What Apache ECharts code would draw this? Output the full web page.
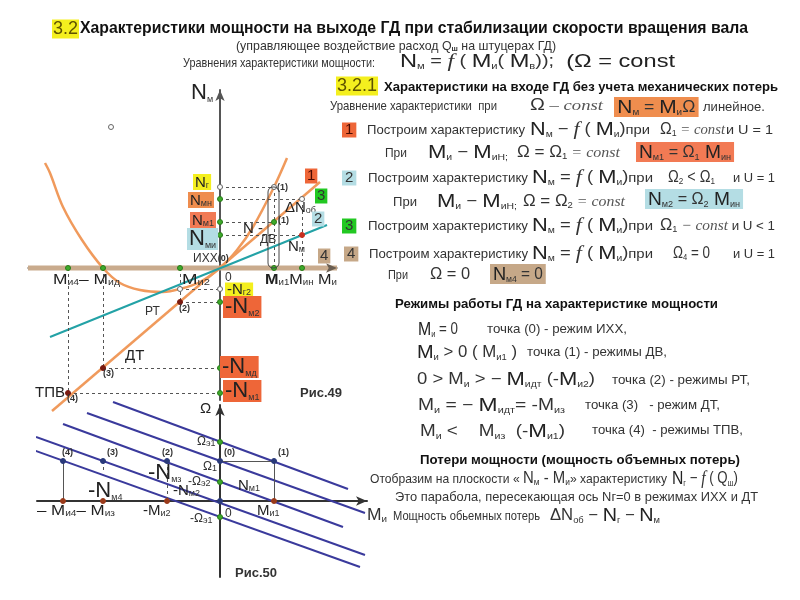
<!DOCTYPE html>
<html>
<head>
<meta charset="utf-8">
<script src="https://cdn.jsdelivr.net/npm/echarts@6/dist/echarts.min.js"></script>
<style>html,body{margin:0;background:#fff}#chart{width:800px;height:600px}</style>
</head>
<body>
<div id="chart"></div>
<script>
// Рис.49 — плоскость N_м – M_и
var mAxis49 = [-15.2, -11.7, -4.0, 5.4, 8.2];      // M_и4, M_ид, M_и2, M_и1, M_ин
var nPos49 = [8.1, 6.9, 4.6, 3.3];                 // N_г, N_мн, N_м1, N_ми
var nNeg49 = [-2.1, -3.4, -10.0, -12.5];           // -N_г2, -N_м2, -N_мд, -N_м1
var char1 = [[-16.8, -14.3], [10.0, 8.6]];         // 1: Ω1, U = 1
var char2 = [[-17.0, -6.9], [10.7, 4.3]];          // 2: Ω2 < Ω1
var char4 = [[-19.2, 0], [11.7, 0]];               // 4: Ω4 = 0
var parabolaNg = [[-17.5, 10.5], [-17.0, 9.5], [-15.7, 6.1], [-13.8, 2.8], [-11.7, 0], [-10.0, -1.5],
  [-8.0, -2.2], [-5.7, -2.4], [-4.0, -2.1], [-2.0, -1.4], [0, 0], [1.7, 1.8], [3.3, 4.1], [5.4, 8.1], [6.7, 11.0]];
var strayPoint = [[-10.9, 14.1]];

// Рис.50 — плоскость Ω – M_и
var mAxis50 = [-15.7, -11.7, -5.3, 0, 5.4];        // (4), (3), (2), (0), (1)
var omega1 = 4.0;
var omegaTicks = [5.9, 1.9, -1.6];                 // Ω_э1, Ω_э2, -Ω_э1
var omegaLines = [
  [[-10.7, 9.9], [12.8, 1.2]],
  [[-13.3, 8.8], [14.5, -1.2]],
  [[-15.7, 7.7], [12.3, -2.6]],
  [[-18.4, 6.4], [14.5, -5.4]],
  [[-19.5, 5.4], [14.0, -6.6]]
];

var SANS = 'Liberation Sans', SERIF = 'Liberation Serif';
var ORANGE = '#f09a5c', TEAL = '#23a2a6', NAVY = '#3a3a9c', GUIDE = '#555';

var R = {
  h:  {fontSize: 16, fontWeight: 'bold', fill: '#111'},
  h2: {fontSize: 13, fontWeight: 'bold', fill: '#111'},
  t:  {fontSize: 13, fill: '#333'},
  tb: {fontSize: 8, fontWeight: 'bold', fill: '#333', verticalAlign: 'bottom', lineHeight: 10},
  N:  {fontSize: 19, fill: '#222'},
  o:  {fontSize: 16, fill: '#333'},
  s:  {fontSize: 9, fill: '#333', verticalAlign: 'bottom', lineHeight: 10},
  i:  {fontSize: 15, fontFamily: SERIF, fontStyle: 'italic', fill: '#555'},
  f:  {fontSize: 19, fontFamily: SERIF, fontStyle: 'italic', fill: '#333'},
  y:  {fontSize: 18, fill: '#5e5200'},
  m:  {fontSize: 15, fill: '#222'},
  mb: {fontSize: 15, fontWeight: 'bold', fill: '#222'},
  d:  {fontSize: 12, fill: '#333'},
  p:  {fontSize: 9, fontWeight: 'bold', fill: '#333'},
  nb: {fontSize: 15, fill: '#333'},
  nr: {fontSize: 15, fill: '#4a0a00'},
  big: {fontSize: 22, fill: '#222'},
  fig: {fontSize: 13, fontWeight: 'bold', fill: '#333'}
};
for (var k in R) if (!R[k].fontFamily) R[k].fontFamily = SANS;

var ctx = document.createElement('canvas').getContext('2d');
function fontOf(st) {
  return (st.fontStyle || 'normal') + ' ' + (st.fontWeight || 'normal') + ' ' + st.fontSize + 'px ' + st.fontFamily;
}
// rich text element, optionally squeezed to a given width
function rt(x, y, w, str, extra) {
  var width = 0, re = /\{(\w+)\|([^}]*)\}/g, m;
  while ((m = re.exec(str))) { ctx.font = fontOf(R[m[1]]); width += ctx.measureText(m[2]).width; }
  var style = {text: str, rich: R, verticalAlign: 'middle', align: 'left'};
  for (var key in extra) style[key] = extra[key];
  return {type: 'text', x: x, y: y, z: 100, silent: true, scaleX: w ? w / width : 1, style: style};
}
function box(color, pad) { return {backgroundColor: color, padding: pad || [1, 3, 0, 3]}; }

var YEL = '#f4ef1e', ORG = '#ef8d4e', SAL = '#f27a54', BLU = '#b4dde4', GRN = '#22c822', TAN = '#c6a888', RED = '#ee6638';

var texts = [
  rt(52, 29, null, '{y|3.2}', box(YEL, [1, 1, 0, 1])),
  rt(80, 29, 668, '{h|Характеристики мощности на выходе ГД при стабилизации скорости вращения вала}'),
  rt(236, 46, 320, '{t|(управляющее воздействие расход Q}{tb|ш}{t| на штуцерах ГД)}'),
  rt(183, 63, 192, '{t|Уравнения характеристики мощности:}'),
  rt(400, 62, 275, '{N|N}{s|м}{o| = }{f|f}{o| ( }{N|M}{s|и}{o|( }{N|M}{s|в}{o|)); }{N| (Ω = const}'),

  rt(336, 86, null, '{y|3.2.1}', box(YEL, [1, 1, 0, 1])),
  rt(384, 87, 394, '{h2|Характеристики на входе ГД без учета механических потерь}'),
  rt(330, 106, 167, '{t|Уравнение характеристики  при}'),
  rt(530, 106, 73, '{o|Ω}{i| – const}'),
  rt(614, 107, 78, '{N|N}{s|м}{o| = }{N|M}{s|и}{o|Ω}', box(ORG)),
  rt(703, 107, 62, '{t|линейное.}'),

  rt(342, 130, null, '{nr|1}', box(RED, [0, 3, 0, 3])),
  rt(367, 130, 158, '{t|Построим характеристику}'),
  rt(530, 130, 120, '{N|N}{s|м}{o| − }{f|f}{o| ( }{N|M}{s|и}{o|)}{t|при}'),
  rt(660, 130, 65, '{o|Ω}{s|1}{i| = const}'),
  rt(726, 130, 47, '{t|и U = 1}'),
  rt(385, 153, 22, '{t|При}'),
  rt(428, 153, 80, '{N|M}{s|и}{o| − }{N|M}{s|иН;}'),
  rt(517, 153, 103, '{o|Ω = Ω}{s|1}{i| = const}'),
  rt(636, 152, 92, '{N|N}{s|м1}{o| = Ω}{s|1}{N| M}{s|ин}', box(SAL)),

  rt(342, 178, null, '{nb|2}', box(BLU, [0, 3, 0, 3])),
  rt(368, 178, 160, '{t|Построим характеристику}'),
  rt(532, 178, 121, '{N|N}{s|м}{o| = }{f|f}{o| ( }{N|M}{s|и}{o|)}{t|при}'),
  rt(668, 178, 47, '{o|Ω}{s|2}{o| < Ω}{s|1}'),
  rt(733, 178, 42, '{t|и U = 1}'),
  rt(393, 202, 24, '{t|При}'),
  rt(437, 202, 80, '{N|M}{s|и}{o| − }{N|M}{s|иН;}'),
  rt(523, 202, 102, '{o|Ω = Ω}{s|2}{i| = const}'),
  rt(645, 199, 92, '{N|N}{s|м2}{o| = Ω}{s|2}{N| M}{s|ин}', box(BLU)),

  rt(342, 226, null, '{nb|3}', box(GRN, [0, 3, 0, 3])),
  rt(368, 226, 160, '{t|Построим характеристику}'),
  rt(532, 226, 121, '{N|N}{s|м}{o| = }{f|f}{o| ( }{N|M}{s|и}{o|)}{t|при}'),
  rt(660, 226, 115, '{o|Ω}{s|1}{i| − const}{t| и U < 1}'),

  rt(344, 254, null, '{nb|4}', box(TAN, [0, 3, 0, 3])),
  rt(369, 254, 159, '{t|Построим характеристику}'),
  rt(532, 254, 121, '{N|N}{s|м}{o| = }{f|f}{o| ( }{N|M}{s|и}{o|)}{t|при}'),
  rt(673, 254, 37, '{o|Ω}{s|4}{o| = 0}'),
  rt(733, 254, 42, '{t|и U = 1}'),
  rt(388, 275, 20, '{t|При}'),
  rt(430, 275, 40, '{o|Ω = 0}'),
  rt(490, 274, 50, '{N|N}{s|м4}{o| = 0}', box(TAN)),

  rt(395, 304, 323, '{h2|Режимы работы ГД на характеристике мощности}'),
  rt(418, 330, 40, '{N|M}{s|и}{o| = 0}'),
  rt(487, 329, 140, '{t|точка (0) - режим ИХХ,}'),
  rt(417, 353, 100, '{N|M}{s|и}{o| > 0 ( M}{s|и1}{o| )}'),
  rt(527, 352, 140, '{t|точка (1) - режимы ДВ,}'),
  rt(417, 380, 178, '{o|0 > M}{s|и}{o| > − }{N|M}{s|идт}{o| (-}{N|M}{s|и2}{o|)}'),
  rt(612, 380, 138, '{t|точка (2) - режимы РТ,}'),
  rt(418, 406, 147, '{o|M}{s|и}{o| = − }{N|M}{s|идт}{o|= -M}{s|из}'),
  rt(585, 405, 135, '{t|точка (3)   - режим ДТ,}'),
  rt(420, 432, 145, '{o|M}{s|и}{o| <    M}{s|из}{o|  (-}{N|M}{s|и1}{o|)}'),
  rt(592, 430, 151, '{t|точка (4)  - режимы ТПВ,}'),

  rt(420, 460, 320, '{h2|Потери мощности (мощность объемных потерь)}'),
  rt(370, 479, 297, '{t|Отобразим на плоскости « }{o|N}{s|м}{o| - M}{s|и}{t|» характеристику}'),
  rt(672, 479, 66, '{N|N}{s|г}{o| − }{f|f}{o| ( Q}{s|ш}{o|)}'),
  rt(395, 497, 363, '{t|Это парабола, пересекающая ось Nг=0 в режимах ИХХ и ДТ}'),
  rt(367, 516, 20, '{o|M}{s|и}'),
  rt(393, 516, 147, '{t|Мощность обьемных потерь}'),
  rt(550, 516, 110, '{o|ΔN}{s|об}{o| − }{N|N}{s|г}{o| − }{N|N}{s|м}'),

  // Рис.49 labels
  rt(191, 93, null, '{big|N}{s|м}'),
  rt(193, 182, null, '{m|N}{s|г}', box(YEL, [1, 2, 0, 2])),
  rt(188, 200, null, '{m|N}{s|мн}', box(ORG, [1, 2, 0, 2])),
  rt(190, 220, null, '{m|N}{s|м1}', box(SAL, [1, 2, 0, 2])),
  rt(187, 239, null, '{big|N}{s|ми}', box(BLU, [0, 2, 0, 2])),
  rt(193, 259, null, '{d|ИХХ}{p|(0)}'),
  rt(225, 278, null, '{d|0}'),
  rt(53, 280, 67, '{m|M}{s|и4}{m|– M}{s|ид}'),
  rt(182, 280, 28, '{m|M}{s|и2}'),
  rt(265, 280, 72, '{mb|M}{s|и1}{m|M}{s|ин}{m| M}{s|и}'),
  rt(277, 188, null, '{p|(1)}'),
  rt(278, 221, null, '{p|(1)}'),
  rt(285, 208, null, '{m|ΔN}{s|об}'),
  rt(243, 229, null, '{m|N -}'),
  rt(260, 240, null, '{d|ДВ}'),
  rt(288, 247, null, '{m|N}{s|м}'),
  rt(305, 176, null, '{nr|1}', box(RED, [0, 2, 0, 2])),
  rt(315, 196, null, '{nb|3}', box(GRN, [0, 2, 0, 2])),
  rt(312, 219, null, '{nb|2}', box(BLU, [0, 2, 0, 2])),
  rt(318, 256, null, '{nb|4}', box(TAN, [0, 2, 0, 2])),
  rt(225, 290, null, '{m|-N}{s|г2}', box(YEL, [0, 2, 0, 2])),
  rt(223, 307, null, '{big|-N}{s|м2}', box(RED, [0, 2, 0, 2])),
  rt(145, 312, null, '{d|РТ}'),
  rt(179, 309, null, '{p|(2)}'),
  rt(125, 356, null, '{m|ДТ}'),
  rt(103, 374, null, '{p|(3)}'),
  rt(220, 367, null, '{big|-N}{s|мд}', box(RED, [0, 2, 0, 2])),
  rt(35, 393, null, '{m|ТПВ}'),
  rt(67, 399, null, '{p|(4)}'),
  rt(223, 391, null, '{big|-N}{s|м1}', box(RED, [0, 2, 0, 2])),
  rt(300, 393, null, '{fig|Рис.49}'),

  // Рис.50 labels
  rt(200, 409, null, '{m|Ω}'),
  rt(197, 442, null, '{d|Ω}{s|э1}'),
  rt(62, 453, null, '{p|(4)}'),
  rt(107, 453, null, '{p|(3)}'),
  rt(162, 453, null, '{p|(2)}'),
  rt(224, 453, null, '{p|(0)}'),
  rt(278, 453, null, '{p|(1)}'),
  rt(203, 467, null, '{d|Ω}{s|1}'),
  rt(148, 473, null, '{big|-N}{s|мз}'),
  rt(188, 482, null, '{d|-Ω}{s|э2}'),
  rt(173, 491, null, '{m|-N}{s|м2}'),
  rt(238, 486, null, '{m|N}{s|м1}'),
  rt(88, 491, null, '{big|-N}{s|м4}'),
  rt(37, 511, 78, '{m|– M}{s|и4}{m|– M}{s|из}'),
  rt(143, 511, null, '{m|-M}{s|и2}'),
  rt(225, 514, null, '{d|0}'),
  rt(190, 519, null, '{d|-Ω}{s|э1}'),
  rt(257, 511, null, '{m|M}{s|и1}'),
  rt(235, 573, null, '{fig|Рис.50}'),

  {type: 'rect', z: 100, silent: true, shape: {x: 268, y: 187, width: 11, height: 81, r: 5},
    style: {fill: 'none', stroke: '#444', lineWidth: 1}}
];

function seg(a, b) { return [{coord: a}, {coord: b}]; }
function guides(ix, list, dash) {
  return {type: 'line', xAxisIndex: ix, yAxisIndex: ix, data: [list[0][0]], showSymbol: false, symbol: 'none',
    clip: false, silent: true, lineStyle: {opacity: 0},
    markLine: {silent: true, symbol: 'none', animation: false, label: {show: false},
      lineStyle: {color: GUIDE, width: 1, type: dash},
      data: list.map(function (p) { return seg(p[0], p[1]); })}};
}
function curve(ix, data, color, width, smooth) {
  return {type: 'line', xAxisIndex: ix, yAxisIndex: ix, data: data, showSymbol: false, symbol: 'none',
    smooth: smooth || false, clip: false, silent: true, lineStyle: {color: color, width: width}};
}
function pts(ix, data, color, border, size) {
  return {type: 'scatter', xAxisIndex: ix, yAxisIndex: ix, data: data, symbolSize: size || 5, clip: false,
    silent: true, z: 5, itemStyle: {color: color, borderColor: border || color, borderWidth: 1, opacity: 1}};
}
function xAx(gi, min, max, color, width) {
  return {type: 'value', gridIndex: gi, min: min, max: max, z: 3, splitLine: {show: false},
    axisTick: {show: false}, axisLabel: {show: false},
    axisLine: {onZero: true, symbol: ['none', 'arrow'], symbolSize: [7, 11], lineStyle: {color: color, width: width}}};
}

var m = mAxis49, np = nPos49, nn = nNeg49;
var guides49 = [
  [[0, np[0]], [m[3], np[0]]], [[0, np[1]], [m[4], np[1]]], [[0, np[2]], [m[3], np[2]]], [[0, np[3]], [m[4], np[3]]],
  [[m[3], np[0]], [m[3], 0]], [[m[4], np[1]], [m[4], 0]],
  [[m[2], nn[0]], [0, nn[0]]], [[m[2], nn[1]], [0, nn[1]]], [[m[1], nn[2]], [0, nn[2]]], [[m[0], nn[3]], [0, nn[3]]],
  [[m[2], 0], [m[2], nn[1]]], [[m[1], 0], [m[1], nn[2]]], [[m[0], 0], [m[0], nn[3]]]
];
var w = mAxis50;
var guides50dash = [
  [[-21, omega1], [15.2, omega1]],
  [[w[1], omega1], [w[1], omega1 - 1.2]],
  [[w[2], omega1], [w[2], 0]]
];
var guides50solid = [
  [[w[3], omega1], [w[4], omega1]],
  [[w[0], omega1], [w[0], 0]],
  [[w[4], omega1], [w[4], 0]]
];

var series = [
  curve(0, char4, '#c9ab8d', 5),
  curve(0, parabolaNg, ORANGE, 2.5, 0.35),
  curve(0, char1, ORANGE, 2.5),
  curve(0, char2, TEAL, 2),
  guides(0, guides49, [3, 3]),
  pts(0, [[0, np[1]], [0, np[2]], [0, np[3]], [0, nn[1]], [0, nn[2]], [0, nn[3]],
    [m[0], 0], [m[1], 0], [m[2], 0], [m[3], 0], [m[4], 0], [m[3], np[2]]], '#3daa2a', '#2a7a1a'),
  pts(0, [[0, np[0]], [0, nn[0]], [m[3], np[0]], [m[4], np[1]], [m[2], nn[0]]].concat(strayPoint), '#fff', '#666'),
  pts(0, [[m[4], np[3]]], '#c83020'),
  pts(0, [[m[2], nn[1]], [m[1], nn[2]], [m[0], nn[3]]], '#7a1a10'),

  guides(1, guides50dash, [3, 3]),
  guides(1, guides50solid, 'solid')
];
omegaLines.forEach(function (l) { series.push(curve(1, l, NAVY, 2)); });
series.push(pts(1, [[w[0], omega1], [w[1], omega1], [w[2], omega1], [w[3], omega1], [w[4], omega1], [0, 0]], '#2a3a7a'));
series.push(pts(1, omegaTicks.map(function (v) { return [0, v]; }), '#3daa2a', '#2a7a1a'));
series.push(pts(1, [[w[0], 0], [w[1], 0], [w[2], 0], [w[4], 0]], '#9a3a1a'));

var chart = echarts.init(document.getElementById('chart'), null, {renderer: 'canvas'});
chart.setOption({
  backgroundColor: '#fff',
  animation: false,
  grid: [
    {left: 28, top: 90, width: 309, height: 310},
    {left: 37, top: 405, width: 330, height: 172}
  ],
  xAxis: [xAx(0, -19.2, 11.7, '#6a5e52', 1.5), xAx(1, -18.3, 14.7, '#333', 2)],
  yAxis: [xAx(0, -13.2, 17.8, '#555', 2), xAx(1, -7.6, 9.6, '#333', 2)],
  series: series,
  graphic: texts
});
</script>
</body>
</html>
